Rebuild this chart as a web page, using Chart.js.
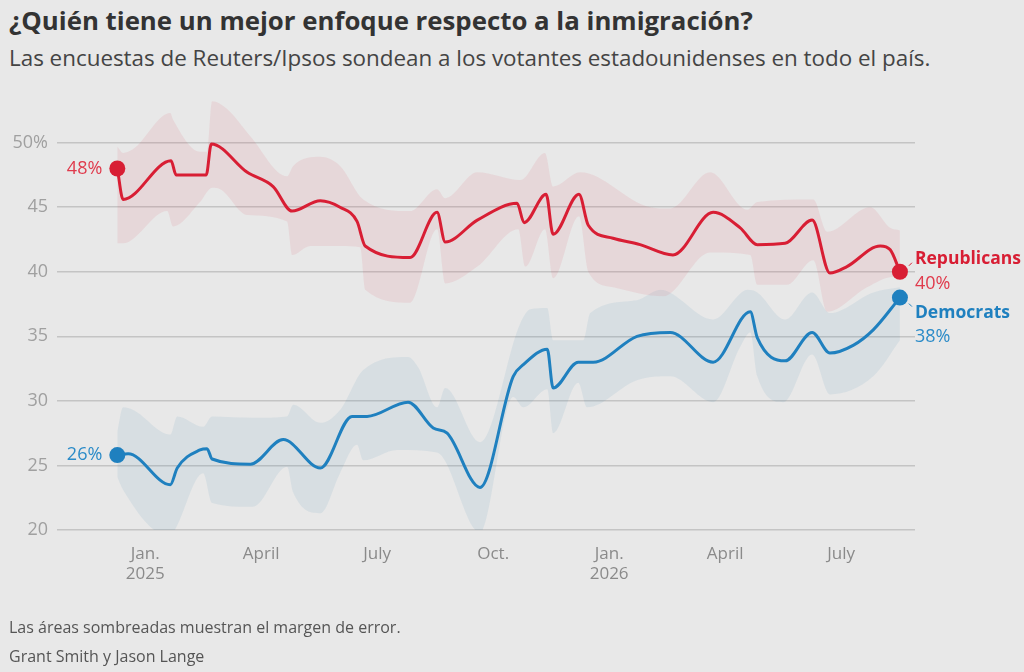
<!DOCTYPE html>
<html lang="es">
<head>
<meta charset="utf-8">
<title>Inmigración</title>
<script src="https://cdn.jsdelivr.net/npm/chart.js@4.4.1/dist/chart.umd.min.js"></script>
<style>
  html, body { margin: 0; padding: 0; background: #e8e8e8; }
  body { width: 1024px; height: 672px; position: relative; overflow: hidden; font-family: "Open Sans", sans-serif; }
  #chart { position: absolute; left: 0; top: 0; }
  .title { position: absolute; left: 9px; top: 2px; font-size: 25.8px; font-weight: bold; color: #333; white-space: nowrap; }
  .sub { position: absolute; left: 9px; top: 42px; font-size: 22.4px; color: #444; white-space: nowrap; }
  .note { position: absolute; left: 9px; font-size: 16px; color: #555; white-space: nowrap; }
</style>
</head>
<body>
<div class="title">¿Quién tiene un mejor enfoque respecto a la inmigración?</div>
<div class="sub">Las encuestas de Reuters/Ipsos sondean a los votantes estadounidenses en todo el país.</div>
<canvas id="chart" width="1024" height="672"></canvas>
<div class="note" style="top:616px">Las áreas sombreadas muestran el margen de error.</div>
<div class="note" style="top:645px">Grant Smith y Jason Lange</div>

<script>
// x en meses desde el 1 de enero de 2025
const xTicks = [0, 3, 6, 9, 12, 15, 18];
const xTickLabels = [['Jan.', '2025'], 'April', 'July', 'Oct.', ['Jan.', '2026'], 'April', 'July'];
const yTicks = [20, 25, 30, 35, 40, 45, 50];

// Republicans
const repX = [-0.72, -0.57, 0.67, 0.80, 1.58, 1.71, 2.64, 3.31, 3.80, 4.53, 5.04, 5.48, 5.69, 6.85, 7.55, 7.76, 8.59, 9.62, 9.80, 10.37, 10.55, 11.22, 11.46, 12.10, 12.80, 13.65, 14.69, 15.39, 15.83, 16.55, 17.25, 17.71, 18.15, 19.01, 19.27, 19.52];
const repY = [48.0, 45.6, 48.6, 47.5, 47.5, 49.9, 47.7, 46.6, 44.7, 45.5, 45.0, 43.9, 42.0, 41.1, 44.6, 42.3, 44.0, 45.3, 43.8, 46.0, 42.9, 46.0, 43.6, 42.6, 42.1, 41.3, 44.6, 43.4, 42.1, 42.2, 44.0, 39.9, 40.4, 42.0, 41.7, 40.0];

// Democrats
const demX = [-0.72, -0.44, 0.65, 0.83, 1.42, 1.60, 1.73, 2.72, 3.57, 4.53, 5.35, 5.74, 6.80, 7.45, 7.81, 8.66, 9.52, 9.78, 10.40, 10.55, 11.20, 11.59, 12.72, 13.58, 14.69, 15.65, 15.83, 16.55, 17.25, 17.71, 18.31, 18.83, 19.52];
const demY = [25.8, 25.9, 23.5, 24.8, 26.2, 26.3, 25.5, 25.1, 27.0, 24.8, 28.8, 28.8, 29.9, 27.9, 27.5, 23.3, 31.9, 32.8, 34.0, 31.0, 33.0, 33.0, 35.0, 35.3, 33.0, 36.9, 34.9, 33.1, 35.3, 33.7, 34.3, 35.5, 38.0];

// margen de error
const repHiX = [-0.72, -0.57, -0.31, 0.65, 0.72, 1.42, 1.60, 1.73, 2.12, 2.72, 3.67, 3.83, 4.53, 5.04, 5.64, 6.85, 7.55, 7.76, 8.59, 9.70, 10.34, 10.55, 11.25, 13.06, 13.58, 14.61, 15.57, 15.83, 17.28, 17.64, 18.75, 19.27, 19.52];
const repHiY = [49.7, 49.2, 49.5, 52.3, 51.8, 49.3, 49.3, 53.2, 52.6, 50.5, 47.4, 48.2, 48.9, 48.2, 45.6, 44.7, 46.4, 45.7, 47.7, 47.1, 49.2, 46.6, 47.7, 45.0, 44.9, 47.7, 44.8, 45.4, 45.6, 43.1, 45.0, 43.4, 43.2];
const repLoX = [-0.72, -0.57, 0.57, 0.72, 1.42, 1.73, 1.94, 2.64, 3.67, 3.80, 4.27, 5.04, 5.56, 5.69, 6.85, 7.55, 7.76, 8.59, 9.65, 9.83, 10.34, 10.55, 11.22, 11.46, 12.10, 13.40, 14.61, 15.65, 15.83, 16.60, 17.28, 17.64, 18.67, 19.34, 19.52];
const repLoY = [42.2, 42.2, 44.7, 43.5, 45.4, 46.5, 46.4, 44.4, 43.9, 41.3, 42.0, 42.0, 41.9, 38.6, 37.6, 43.3, 39.1, 40.4, 43.3, 40.4, 43.3, 39.5, 44.3, 40.0, 38.8, 38.1, 41.5, 41.3, 39.0, 39.0, 40.9, 36.9, 38.8, 39.6, 39.6];
const demHiX = [-0.72, -0.57, -0.31, 0.65, 0.83, 1.50, 1.73, 2.79, 3.67, 3.83, 4.53, 5.04, 5.64, 6.80, 7.06, 7.55, 7.76, 8.66, 9.70, 9.96, 10.40, 10.55, 11.33, 11.51, 12.72, 13.32, 14.69, 15.59, 15.83, 16.55, 17.25, 17.71, 18.83, 19.52];
const demHiY = [27.6, 29.5, 29.3, 27.4, 28.8, 28.0, 28.8, 28.7, 28.8, 29.7, 28.3, 29.3, 32.4, 33.4, 32.6, 29.5, 31.0, 26.8, 36.0, 37.1, 37.2, 34.7, 34.7, 36.8, 37.8, 38.6, 36.3, 38.6, 38.4, 36.3, 38.4, 36.8, 38.4, 38.8];
const demLoX = [-0.72, -0.57, 0.57, 0.72, 1.50, 1.73, 2.79, 3.67, 3.83, 4.53, 5.04, 5.48, 5.64, 6.52, 7.55, 8.66, 9.52, 9.78, 10.40, 10.55, 11.20, 11.43, 12.72, 13.58, 14.69, 15.39, 15.65, 15.83, 16.50, 17.25, 17.71, 18.83, 19.52];
const demLoY = [24.1, 23.1, 19.6, 19.8, 24.4, 22.1, 21.8, 24.9, 22.9, 21.3, 24.4, 26.6, 25.4, 26.2, 26.0, 19.8, 30.3, 29.5, 30.9, 27.5, 31.4, 29.5, 31.6, 31.9, 29.9, 34.2, 35.3, 31.9, 29.9, 33.6, 30.5, 31.9, 34.7];

const RED = '#d81e34';
const BLUE = '#1f80bf';
const FONT = '"Open Sans", sans-serif';

function pts(xs, ys) {
    return xs.map(function(x, i) { return { x: x, y: ys[i] }; });
}

function endDots(n) {
    return function(ctx) {
        return (ctx.dataIndex === 0 || ctx.dataIndex === n - 1) ? 8 : 0;
    };
}

function lineSet(xs, ys, color) {
    return {
        data: pts(xs, ys),
        borderColor: color,
        backgroundColor: color,
        borderWidth: 3,
        cubicInterpolationMode: 'monotone',
        pointRadius: endDots(xs.length),
        pointBorderWidth: 0,
        pointBackgroundColor: color,
        fill: false
    };
}

function bandSet(xs, ys, fillColor, target) {
    return {
        data: pts(xs, ys),
        borderWidth: 0,
        borderColor: 'rgba(0,0,0,0)',
        backgroundColor: fillColor,
        pointRadius: 0,
        cubicInterpolationMode: 'monotone',
        fill: target
    };
}

// etiquetas junto a los puntos inicial y final
const labelPlugin = {
    id: 'labels',
    afterDatasetsDraw: function(chart) {
        const ctx = chart.ctx;
        const xs = chart.scales.x, ys = chart.scales.y;
        function px(x) { return xs.getPixelForValue(x); }
        function py(y) { return ys.getPixelForValue(y); }
        ctx.save();
        ctx.textBaseline = 'middle';

        // inicio
        ctx.textAlign = 'right';
        ctx.font = '18px ' + FONT;
        ctx.fillStyle = '#e03a4c';
        ctx.fillText(Math.round(repY[0]) + '%', px(repX[0]) - 15, py(repY[0]));
        ctx.fillStyle = '#2b8bc8';
        ctx.fillText(Math.round(demY[0]) + '%', px(demX[0]) - 15, py(demY[0]));

        // final
        const rx = px(repX[repX.length - 1]), ry = py(repY[repY.length - 1]);
        const dx = px(demX[demX.length - 1]), dy = py(demY[demY.length - 1]);
        ctx.textAlign = 'left';
        ctx.font = 'bold 17.5px ' + FONT;
        ctx.fillStyle = RED;
        ctx.fillText('Republicans', rx + 15, ry - 13);
        ctx.font = '18px ' + FONT;
        ctx.fillStyle = '#e03a4c';
        ctx.fillText(Math.round(repY[repY.length - 1]) + '%', rx + 15, ry + 12);
        ctx.font = 'bold 17.5px ' + FONT;
        ctx.fillStyle = BLUE;
        ctx.fillText('Democrats', dx + 15, dy + 15);
        ctx.font = '18px ' + FONT;
        ctx.fillStyle = '#2b8bc8';
        ctx.fillText(Math.round(demY[demY.length - 1]) + '%', dx + 15, dy + 39);

        ctx.lineWidth = 1;
        ctx.strokeStyle = RED;
        ctx.beginPath(); ctx.moveTo(rx + 9, ry - 6); ctx.lineTo(rx + 12, ry - 9); ctx.stroke();
        ctx.strokeStyle = BLUE;
        ctx.beginPath(); ctx.moveTo(dx + 9, dy + 6); ctx.lineTo(dx + 12, dy + 9); ctx.stroke();
        ctx.restore();
    }
};

new Chart(document.getElementById('chart').getContext('2d'), {
    type: 'line',
    data: {
        datasets: [
            lineSet(repX, repY, RED),
            lineSet(demX, demY, BLUE),
            bandSet(repLoX, repLoY, 'rgba(0,0,0,0)', false),
            bandSet(repHiX, repHiY, 'rgba(214, 30, 50, 0.08)', 2),
            bandSet(demLoX, demLoY, 'rgba(0,0,0,0)', false),
            bandSet(demHiX, demHiY, 'rgba(30, 115, 165, 0.08)', 4)
        ]
    },
    options: {
        responsive: false,
        animation: false,
        layout: { padding: { top: 91, right: 109, bottom: 82, left: 0 } },
        scales: {
            x: {
                type: 'linear',
                min: -2.28,
                max: 19.91,
                afterBuildTicks: function(scale) {
                    scale.ticks = xTicks.map(function(v) { return { value: v }; });
                },
                afterFit: function(scale) { scale.height = 60; },
                grid: { display: false },
                border: { display: false },
                ticks: {
                    autoSkip: false,
                    maxRotation: 0,
                    padding: 6,
                    color: '#8a8a8a',
                    font: { size: 17, family: FONT },
                    callback: function(value, index) { return xTickLabels[index]; }
                }
            },
            y: {
                min: 20,
                max: 54,
                afterBuildTicks: function(scale) {
                    scale.ticks = yTicks.map(function(v) { return { value: v }; });
                },
                afterFit: function(scale) { scale.width = 57; },
                grid: { color: '#c4c4c4', lineWidth: 1.5, drawTicks: false },
                border: { display: false },
                ticks: {
                    padding: 9,
                    color: '#a0a0a0',
                    font: { size: 18, family: FONT },
                    callback: function(value) { return value === 50 ? '50%' : value; }
                }
            }
        },
        plugins: {
            legend: { display: false },
            tooltip: { enabled: false }
        }
    },
    plugins: [labelPlugin]
});
</script>
</body>
</html>
